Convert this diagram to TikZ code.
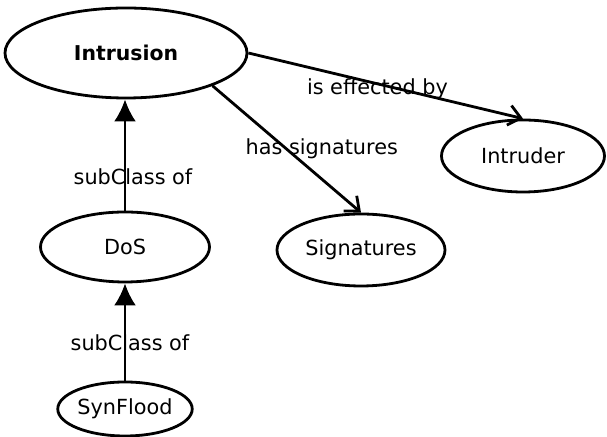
\documentclass[tikz,border=0pt]{standalone}
\usepackage{fontspec}
\setmainfont{DejaVu Sans}
\usetikzlibrary{shapes,arrows.meta,positioning}

\begin{document}
\begin{tikzpicture}[x=0.5pt,y=-0.5pt,line width=1.4pt,
  main node/.style={ellipse,draw,inner sep=0pt,font=\fontsize{10.4}{12}\selectfont},
  sub/.style={-{Latex[length=11pt,width=11pt]}},
  rel/.style={-{Straight Barb[length=6pt,width=10pt]}}]
  \useasboundingbox (0,0) rectangle (607,437);

  \node[main node,minimum width=121pt,minimum height=45pt,font=\fontsize{10.2}{12}\selectfont\bfseries] (1) at (126,53) {Intrusion};
  \node[main node,minimum width=81.5pt,minimum height=36pt] (2) at (523,156) {Intruder};
  \node[main node,minimum width=84pt,minimum height=36pt] (3) at (361,250) {Signatures};
  \node[main node,minimum width=84.5pt,minimum height=35pt] (4) at (125,247) {DoS};
  \node[main node,minimum width=60pt,minimum height=27pt] (5) at (125,409) {SynFlood};

  \path[every node/.style={font=\fontsize{10.4}{12}\selectfont}]
    (1.east) edge[rel] node[pos=0.47,yshift=-2.5pt] {is effected by} (2.north)
    (1.south east) edge[rel] node[midway,xshift=17.5pt] {has signatures} (3.north)
    (4.north) edge[sub] node[pos=0.3,xshift=4pt] {subClass of} (4.north |- 1.south)
    (5.north) edge[sub] node[pos=0.39,xshift=2.5pt] {subClass of} (4.south);
\end{tikzpicture}
\end{document}
